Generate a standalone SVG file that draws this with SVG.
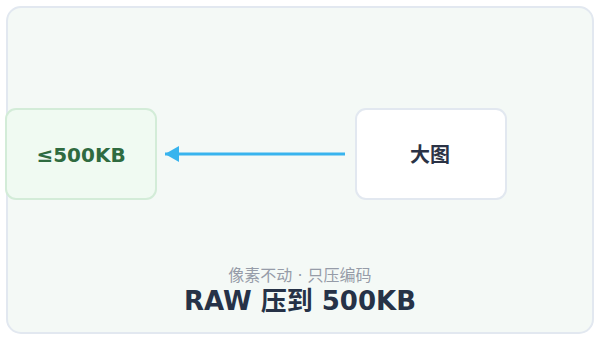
<svg xmlns="http://www.w3.org/2000/svg" width="600" height="340" viewBox="0 0 600 340">
<style>
.node{stroke-width:2}
.lbl{font-family:"DejaVu Sans","Noto Sans CJK SC",sans-serif;font-weight:700;font-size:20px;text-anchor:middle}
</style>
<defs>
<marker id="ah" markerWidth="14" markerHeight="16" refX="14" refY="8" orient="auto" markerUnits="userSpaceOnUse" viewBox="0 0 14 16">
<path d="M0,0 L14,8 L0,16 Z" fill="#38b4ee"/>
</marker>
</defs>
<rect x="7" y="7" width="586" height="326" rx="14" fill="#f4f9f6" stroke="#e2e8f0" stroke-width="2"/>
<g id="connectors">
<line x1="345" y1="154" x2="165" y2="154" stroke="#38b4ee" stroke-width="3" marker-end="url(#ah)"/>
</g>
<g id="node-small">
<rect class="node" x="6" y="109" width="150" height="90" rx="10" fill="#f0faf2" stroke="#d3ecd8"/>
<text class="lbl" x="81" y="162" fill="#2f6b40">≤500KB</text>
</g>
<g id="node-big">
<rect class="node" x="356" y="109" width="150" height="90" rx="10" fill="#ffffff" stroke="#e2e8f0"/>
<text class="lbl" x="430" y="162" fill="#2a3245" font-size="21">大图</text>
</g>
<text x="300" y="281" font-family="DejaVu Sans,Noto Sans CJK SC,sans-serif" font-size="16" fill="#969ca8" text-anchor="middle">像素不动 · 只压编码</text>
<text x="300" y="310" font-family="DejaVu Sans,Noto Sans CJK SC,sans-serif" font-weight="700" font-size="26" fill="#263247" text-anchor="middle">RAW 压到 500KB</text>
</svg>
